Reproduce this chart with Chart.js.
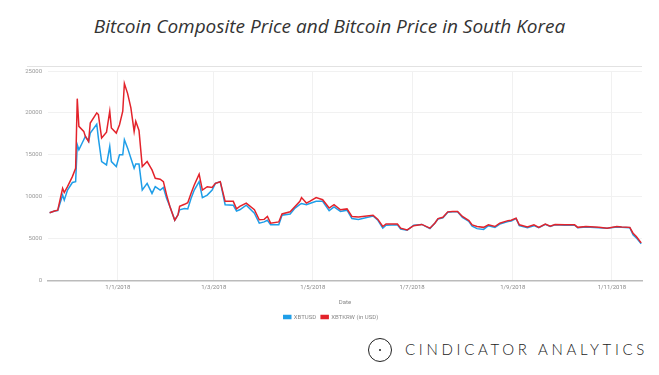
<!DOCTYPE html>
<html>
<head>
<meta charset="utf-8">
<script src="https://cdn.jsdelivr.net/npm/chart.js@4.4.0/dist/chart.umd.min.js"></script>
<style>
  html, body { margin: 0; padding: 0; background: #fff; }
  body { width: 659px; height: 375px; position: relative; overflow: hidden; }
  .title {
    position: absolute; left: 0; top: 13px; width: 659px; text-align: center;
    font-family: "Open Sans", sans-serif; font-style: italic; font-size: 19px; color: #333;
  }
  .topline { position: absolute; left: 27px; top: 66px; width: 615px; height: 1px; background: #e2e2e2; }
  .chart-box { position: absolute; left: 0; top: 58px; width: 659px; height: 272px; }
  .logo { position: absolute; left: 368px; top: 338px; height: 24px; }
  .logo .ring {
    position: absolute; left: 0; top: 0; width: 22px; height: 22px;
    border: 1px solid #222; border-radius: 50%;
  }
  .logo .dot {
    position: absolute; left: 11px; top: 11px; width: 2px; height: 2px;
    background: #222; border-radius: 50%;
  }
  .logo .name {
    position: absolute; left: 37px; top: 2px; white-space: nowrap;
    font-family: Lato, "Open Sans", sans-serif; font-weight: 300; font-size: 15px;
    letter-spacing: 3.7px; color: #222;
  }
</style>
</head>
<body>
<div class="title">Bitcoin Composite Price and Bitcoin Price in South Korea</div>
<div class="topline"></div>
<div class="chart-box"><canvas id="priceChart"></canvas></div>
<div class="logo">
  <div class="ring"></div>
  <div class="dot"></div>
  <div class="name">CINDICATOR ANALYTICS</div>
</div>

<script>
// Dates of the readings (yyyy-mm-dd)
const dates = [
  '2017-11-20', '2017-11-23', '2017-11-25', '2017-11-28', '2017-11-29', '2017-12-01',
  '2017-12-04', '2017-12-06', '2017-12-07', '2017-12-08', '2017-12-11', '2017-12-12',
  '2017-12-14', '2017-12-15', '2017-12-19', '2017-12-20', '2017-12-22', '2017-12-25',
  '2017-12-27', '2017-12-28', '2017-12-31', '2018-01-02', '2018-01-04', '2018-01-05',
  '2018-01-07', '2018-01-09', '2018-01-11', '2018-01-12', '2018-01-14', '2018-01-16',
  '2018-01-19', '2018-01-22', '2018-01-24', '2018-01-27', '2018-01-29', '2018-01-31',
  '2018-02-02', '2018-02-05', '2018-02-07', '2018-02-08', '2018-02-11', '2018-02-13',
  '2018-02-15', '2018-02-17', '2018-02-20', '2018-02-22', '2018-02-25', '2018-02-28',
  '2018-03-02', '2018-03-05', '2018-03-08', '2018-03-13', '2018-03-15', '2018-03-17',
  '2018-03-21', '2018-03-26', '2018-03-29', '2018-04-01', '2018-04-03', '2018-04-05',
  '2018-04-10', '2018-04-12', '2018-04-17', '2018-04-20', '2018-04-23', '2018-04-24',
  '2018-04-27', '2018-04-29', '2018-05-03', '2018-05-07', '2018-05-11', '2018-05-14',
  '2018-05-18', '2018-05-22', '2018-05-25', '2018-05-29', '2018-06-07', '2018-06-10',
  '2018-06-13', '2018-06-15', '2018-06-22', '2018-06-24', '2018-06-28', '2018-07-02',
  '2018-07-07', '2018-07-12', '2018-07-15', '2018-07-17', '2018-07-20', '2018-07-23',
  '2018-07-26', '2018-07-29', '2018-08-01', '2018-08-05', '2018-08-07', '2018-08-10',
  '2018-08-14', '2018-08-17', '2018-08-21', '2018-08-24', '2018-08-29', '2018-08-31',
  '2018-09-03', '2018-09-05', '2018-09-10', '2018-09-14', '2018-09-17', '2018-09-21',
  '2018-09-24', '2018-09-27', '2018-10-03', '2018-10-09', '2018-10-11', '2018-10-16',
  '2018-10-24', '2018-10-29', '2018-11-04', '2018-11-07', '2018-11-12', '2018-11-14',
  '2018-11-16', '2018-11-19'
];

// XBTUSD composite price
const xbtusd = [
  8100, 8300, 8350, 10200, 9600, 10800,
  11700, 11800, 16200, 15600, 16800, 17200,
  16600, 17600, 18650, 17000, 14200, 13800,
  16000, 14200, 13600, 15000, 15000, 16800,
  15800, 14600, 13400, 13900, 13900, 10800,
  11600, 10400, 11200, 10800, 11100, 9800,
  8850, 7200, 7850, 8450, 8600, 8550,
  9800, 10800, 11800, 9900, 10200, 10800,
  11600, 11800, 9050, 9000, 8300, 8450,
  9000, 8050, 6850, 7000, 7200, 6650,
  6650, 7800, 7950, 8650, 9100, 9200,
  9050, 9200, 9450, 9450, 8350, 8800,
  8250, 8400, 7400, 7300, 7700, 7200,
  6250, 6600, 6650, 6150, 6000, 6600,
  6700, 6200, 6850, 7350, 7500, 8150,
  8200, 8200, 7550, 7050, 6500, 6200,
  6100, 6550, 6350, 6750, 7050, 7100,
  7400, 6550, 6300, 6550, 6300, 6700,
  6450, 6650, 6600, 6600, 6300, 6400,
  6300, 6250, 6400, 6350, 6300, 5450,
  5100, 4400
];

// XBTKRW price converted to USD
const xbtkrw = [
  8100, 8300, 8400, 11000, 10500, 11200,
  12400, 13400, 21700, 18400, 17800, 17200,
  16600, 18800, 20000, 19800, 17000, 17700,
  20200, 18200, 17600, 18600, 20200, 23500,
  22300, 20600, 17800, 19000, 17900, 13600,
  14200, 13200, 12200, 12100, 11800, 10200,
  8850, 7200, 7850, 8850, 9100, 9300,
  10400, 11400, 12700, 10800, 11200, 11100,
  11600, 11800, 9450, 9450, 8550, 8850,
  9250, 8450, 7250, 7300, 7650, 6850,
  7000, 7950, 8200, 8850, 9450, 9900,
  9250, 9450, 9900, 9650, 8650, 9050,
  8450, 8550, 7650, 7600, 7800, 7300,
  6450, 6750, 6750, 6250, 6050, 6550,
  6700, 6250, 6850, 7400, 7550, 8200,
  8250, 8250, 7650, 7150, 6650, 6450,
  6350, 6650, 6450, 6850, 7150, 7200,
  7450, 6650, 6400, 6650, 6350, 6750,
  6500, 6700, 6650, 6650, 6350, 6450,
  6350, 6250, 6450, 6400, 6350, 5650,
  5250, 4500
];

// X axis ticks (day/month/year)
const tickDates = ['2018-01-01', '2018-03-01', '2018-05-01', '2018-07-01', '2018-09-01', '2018-11-01'];
const tickLabels = ['1/1/2018', '1/3/2018', '1/5/2018', '1/7/2018', '1/9/2018', '1/11/2018'];

// Days since 1 Jan 2018
const origin = Date.parse('2018-01-01');
function toDay(d) {
    return (Date.parse(d) - origin) / 86400000;
}

const tickDays = tickDates.map(toDay);
const usdPoints = dates.map((d, i) => ({ x: toDay(d), y: xbtusd[i] }));
const krwPoints = dates.map((d, i) => ({ x: toDay(d), y: xbtkrw[i] }));

const smallFont = { family: 'Roboto, sans-serif', size: 6 };

const config = {
    type: 'line',
    data: {
        datasets: [{
            label: 'XBTUSD',
            data: usdPoints,
            borderColor: '#1f9ee8',
            backgroundColor: '#1f9ee8',
            borderWidth: 1.5,
            pointRadius: 0,
            order: 2
        }, {
            label: 'XBTKRW (in USD)',
            data: krwPoints,
            borderColor: '#e3232b',
            backgroundColor: '#e3232b',
            borderWidth: 1.5,
            pointRadius: 0,
            order: 1
        }]
    },
    options: {
        responsive: true,
        maintainAspectRatio: false,
        animation: false,
        layout: { padding: { left: 20, right: 17, top: 13, bottom: 0 } },
        plugins: {
            tooltip: { enabled: false },
            legend: {
                position: 'bottom',
                labels: {
                    boxWidth: 7,
                    boxHeight: 3,
                    padding: 5,
                    color: '#888',
                    font: smallFont,
                    sort: (a, b) => a.datasetIndex - b.datasetIndex
                }
            }
        },
        scales: {
            x: {
                type: 'linear',
                min: -43,
                max: 322.5,
                afterBuildTicks: scale => {
                    scale.ticks = tickDays.map(v => ({ value: v }));
                },
                ticks: {
                    color: '#888',
                    font: smallFont,
                    padding: 3,
                    maxRotation: 0,
                    callback: (v, i) => tickLabels[i]
                },
                grid: { color: '#f1f1f1', drawTicks: false },
                border: { color: '#bbb', width: 1.5 },
                title: {
                    display: true,
                    text: 'Date',
                    color: '#888',
                    font: smallFont,
                    padding: { top: 5, bottom: 3 }
                }
            },
            y: {
                min: 0,
                max: 25000,
                afterFit: scale => { scale.width = 28; },
                ticks: {
                    stepSize: 5000,
                    color: '#999',
                    font: smallFont,
                    padding: 6,
                    callback: v => String(v)
                },
                grid: { color: '#f1f1f1', drawTicks: false },
                border: { display: false }
            }
        }
    }
};

new Chart(document.getElementById('priceChart'), config);
</script>
</body>
</html>
